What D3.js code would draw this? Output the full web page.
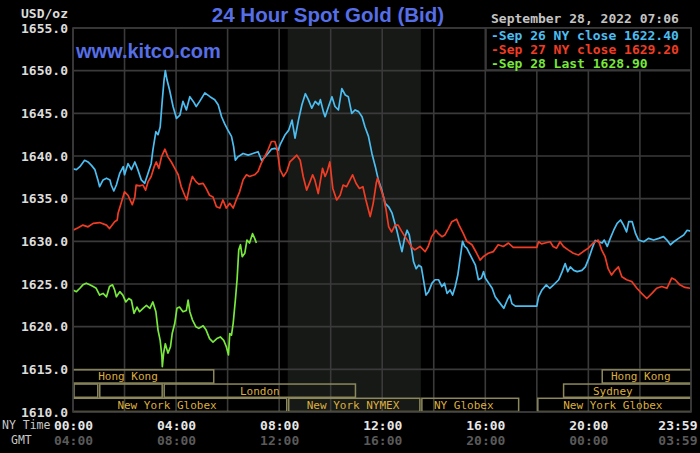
<!DOCTYPE html>
<html lang="en">
<head>
<meta charset="utf-8">
<script src="https://d3js.org/d3.v7.min.js"></script>
<style>
  body { margin: 0; background: #000; }
  text { font-family: "DejaVu Sans Mono", monospace; }
</style>
</head>
<body>
<script>
// price readings, [minutes after 00:00 NY time, price]
const sep26 = [
 [0,1638.5],[8,1638.4],[16,1638.75],[27,1639.5],[35,1639.3],[43,1638.9],[51,1638.4],[58,1637.2],[62,1636.4],
 [70,1637.2],[78,1637.4],[86,1637.2],[89,1636.6],[95,1635.9],[101,1636.6],[109,1638.0],[117,1638.75],[120,1637.8],
 [128,1639.1],[136,1638.4],[144,1639.3],[151,1638.4],[159,1637.2],[167,1636.8],[175,1638.0],[182,1639.1],[186,1640.7],
 [193,1642.85],[198,1642.5],[203,1643.4],[208,1646.6],[212,1648.9],[215,1650.0],[219,1648.9],[225,1647.7],[233,1645.8],
 [241,1644.4],[249,1644.8],[256,1646.4],[264,1645.4],[272,1646.95],[280,1646.4],[287,1645.8],[295,1646.4],[307,1647.4],
 [319,1646.95],[330,1646.6],[338,1646.0],[346,1644.6],[353,1643.8],[361,1643.0],[369,1642.3],[374,1641.1],[378,1639.5],
 [384,1639.9],[396,1640.3],[408,1640.1],[419,1640.3],[431,1640.5],[439,1639.5],[447,1639.9],[454,1640.3],[462,1640.8],
 [470,1640.9],[478,1640.7],[482,1641.3],[494,1642.5],[502,1643.0],[510,1644.2],[517,1642.1],[525,1644.2],[533,1646.0],
 [541,1647.3],[548,1646.6],[556,1645.6],[564,1646.4],[572,1646.0],[576,1646.6],[583,1645.2],[587,1644.6],[595,1645.8],
 [603,1646.95],[610,1645.8],[618,1645.4],[626,1647.9],[634,1647.15],[641,1646.95],[649,1645.0],[657,1645.4],[665,1645.2],
 [673,1644.6],[680,1643.4],[688,1642.3],[696,1640.3],[704,1638.75],[711,1637.2],[719,1636.0],[727,1634.45],[735,1634.05],
 [743,1633.3],[750,1632.0],[754,1631.3],[760,1630.0],[766,1628.8],[772,1630.35],[778,1631.3],[783,1630.75],[788,1629.2],
 [793,1627.6],[799,1626.8],[805,1627.2],[811,1627.0],[816,1625.5],[822,1623.7],[828,1624.1],[836,1625.1],[843,1625.5],
 [851,1625.5],[859,1624.7],[865,1625.1],[871,1623.9],[878,1624.3],[884,1623.7],[890,1624.7],[896,1626.05],[902,1628.2],
 [907,1630.0],[912,1629.4],[917,1629.2],[923,1628.6],[929,1628.0],[937,1627.2],[944,1625.5],[951,1625.7],[956,1626.45],
 [960,1625.7],[968,1625.1],[976,1624.5],[983,1623.5],[995,1622.7],[1003,1622.15],[1011,1623.1],[1017,1623.7],[1022,1622.7],
 [1030,1622.4],[1080,1622.4],[1084,1623.5],[1092,1624.3],[1102,1624.9],[1110,1624.5],[1119,1624.9],[1131,1625.5],
 [1139,1626.45],[1146,1627.4],[1152,1626.45],[1158,1627.0],[1166,1626.6],[1174,1626.45],[1185,1626.6],[1193,1627.0],
 [1201,1628.0],[1209,1629.2],[1216,1630.1],[1224,1629.95],[1232,1629.8],[1237,1630.15],[1244,1629.4],[1251,1630.35],
 [1259,1631.3],[1267,1632.1],[1275,1632.5],[1282,1631.9],[1289,1631.1],[1294,1632.3],[1302,1632.3],[1310,1630.9],
 [1317,1630.15],[1329,1629.95],[1340,1630.35],[1352,1630.15],[1364,1630.35],[1375,1630.55],[1383,1630.15],[1391,1629.6],
 [1399,1629.95],[1410,1630.35],[1422,1630.75],[1430,1631.3],[1438,1631.2]
];
const sep27 = [
 [0,1631.3],[12,1631.6],[23,1631.9],[35,1631.7],[47,1632.1],[62,1632.2],[78,1631.9],[85,1631.5],[97,1632.3],[103,1632.5],
 [105,1633.3],[112,1634.45],[120,1635.8],[128,1635.4],[138,1634.3],[144,1635.2],[147,1636.6],[155,1636.5],[163,1636.6],
 [169,1636.0],[175,1637.0],[182,1637.6],[189,1638.75],[194,1639.3],[200,1638.55],[206,1639.9],[214,1640.8],[221,1639.9],
 [229,1639.3],[237,1638.55],[245,1637.8],[252,1636.4],[260,1635.4],[265,1634.85],[272,1636.6],[278,1637.6],[286,1637.0],
 [293,1636.7],[303,1636.8],[310,1636.2],[318,1635.4],[326,1635.2],[334,1634.05],[342,1633.9],[349,1634.85],[357,1633.9],
 [365,1634.45],[373,1633.9],[380,1634.85],[388,1635.8],[396,1637.2],[404,1637.8],[411,1637.6],[423,1637.8],[431,1638.2],
 [438,1639.1],[446,1639.9],[454,1640.7],[462,1641.7],[470,1641.7],[475,1640.9],[482,1638.4],[490,1637.6],[498,1638.2],
 [505,1639.3],[513,1639.7],[521,1640.1],[529,1639.5],[536,1637.6],[544,1636.0],[552,1637.0],[558,1637.8],[563,1637.2],
 [571,1635.6],[581,1638.55],[587,1637.6],[592,1638.2],[598,1639.3],[605,1636.2],[614,1634.85],[622,1635.4],[629,1636.6],
 [637,1636.4],[645,1637.2],[651,1637.8],[659,1636.8],[667,1636.2],[675,1636.4],[682,1634.85],[692,1632.9],[699,1634.45],
 [706,1636.8],[709,1637.4],[715,1636.4],[723,1635.2],[729,1633.7],[735,1631.7],[742,1631.1],[750,1631.9],[757,1631.9],
 [765,1631.2],[773,1630.55],[781,1629.95],[789,1629.3],[796,1629.0],[808,1629.4],[820,1628.8],[827,1629.4],[835,1630.55],
 [845,1631.3],[851,1630.9],[859,1630.55],[866,1630.75],[874,1631.5],[882,1632.3],[893,1632.6],[899,1631.9],[909,1630.9],
 [917,1630.0],[929,1629.6],[940,1628.6],[948,1627.8],[955,1628.2],[967,1628.6],[979,1628.8],[990,1629.6],[1002,1629.4],
 [1014,1629.8],[1025,1629.3],[1080,1629.3],[1084,1629.95],[1091,1629.7],[1099,1629.8],[1111,1629.95],[1118,1629.4],
 [1126,1629.2],[1134,1629.95],[1142,1629.4],[1153,1629.0],[1165,1628.6],[1177,1628.4],[1188,1628.8],[1200,1629.2],
 [1211,1629.8],[1223,1630.15],[1231,1629.0],[1239,1628.2],[1246,1626.8],[1254,1626.05],[1262,1626.6],[1270,1627.0],
 [1278,1625.85],[1289,1625.5],[1301,1625.3],[1313,1624.5],[1324,1623.9],[1336,1623.3],[1348,1623.9],[1359,1624.5],
 [1371,1624.7],[1383,1624.5],[1394,1625.7],[1402,1625.5],[1413,1624.9],[1425,1624.6],[1437,1624.5]
];
const sep28 = [
 [0,1624.3],[8,1624.1],[16,1624.5],[23,1624.9],[31,1625.1],[39,1624.9],[47,1624.7],[54,1624.5],[62,1623.7],[70,1623.9],
 [78,1623.5],[85,1624.7],[92,1624.9],[97,1624.3],[101,1623.5],[109,1624.1],[116,1623.7],[123,1622.9],[130,1623.3],
 [136,1623.1],[142,1621.55],[149,1622.3],[155,1621.75],[163,1622.15],[171,1622.5],[179,1622.15],[186,1622.9],
 [193,1621.75],[198,1619.6],[203,1618.4],[207,1616.5],[208,1615.3],[211,1616.9],[215,1618.0],[221,1616.9],[227,1617.65],
 [231,1619.2],[237,1620.4],[242,1622.15],[248,1622.3],[256,1621.75],[264,1621.9],[268,1623.1],[272,1621.75],[278,1620.8],
 [286,1620.0],[293,1619.8],[303,1620.1],[310,1619.6],[318,1618.6],[326,1618.2],[335,1618.6],[343,1618.8],[351,1618.4],
 [357,1617.65],[362,1616.7],[365,1619.2],[369,1619.0],[373,1620.4],[378,1623.1],[382,1625.5],[386,1629.0],[390,1629.6],
 [394,1628.2],[400,1628.6],[405,1630.15],[411,1629.8],[418,1630.9],[423,1630.35],[427,1629.8]
];
const seriesNames = ["Sep 26 NY close 1622.40", "Sep 27 NY close 1629.20", "Sep 28 Last 1628.90"];
const seriesColors = ["#4cbdf0", "#f03c24", "#78e83c"];

const yTicks = [1610, 1615, 1620, 1625, 1630, 1635, 1640, 1645, 1650, 1655];
const timeTicks = [0, 240, 480, 720, 960, 1200, 1439];
const nyLabels = ["00:00", "04:00", "08:00", "12:00", "16:00", "20:00", "23:59"];
const gmtLabels = ["04:00", "08:00", "12:00", "16:00", "20:00", "00:00", "03:59"];
const gridTimes = [0, 120, 240, 360, 480, 600, 720, 840, 960, 1080, 1200, 1320, 1439];

// market sessions (minutes NY time), row 0 on top
const sessionName = ["Hong Kong", "Hong Kong", "", "", "London", "Sydney", "New York Globex", "New York NYMEX", "NY Globex", "New York Globex"];
const sessionRow = [0, 0, 1, 1, 1, 1, 2, 2, 2, 2];
const sessionStart = [-90, 1230, 0, 60, 210, 1140, -90, 500, 810, 1080];
const sessionEnd = [330, 1500, 60, 210, 660, 1500, 500, 810, 1040, 1500];
const sessionLabel = [128, 1322, 0, 0, 435, 1257, 219, 652, 910, 1257];

const comexOpen = 500, comexClose = 810;

const W = 700, H = 453;
const margin = {top: 28, right: 9, bottom: 41, left: 73};

const svg = d3.select("body").append("svg")
  .attr("width", W).attr("height", H)
  .style("background", "#000");

const x = d3.scaleLinear().domain([0, 1439]).range([margin.left, W - margin.right]);
const y = d3.scaleLinear().domain([1610, 1655]).range([H - margin.bottom, margin.top]);

svg.append("clipPath").attr("id", "plot")
  .append("rect")
  .attr("x", x(0)).attr("y", y(1655))
  .attr("width", x(1439) - x(0)).attr("height", y(1610) - y(1655));

// comex shaded hours
svg.append("rect")
  .attr("x", x(comexOpen)).attr("y", y(1655))
  .attr("width", x(comexClose) - x(comexOpen))
  .attr("height", y(1610) - y(1655))
  .attr("fill", "#161916");

// grid
const gridColor = "#3a3a3a";
svg.append("g").selectAll("line").data(gridTimes).join("line")
  .attr("x1", d => x(d)).attr("x2", d => x(d))
  .attr("y1", y(1655)).attr("y2", y(1610))
  .attr("stroke", gridColor).attr("stroke-width", 1.6);
svg.append("g").selectAll("line").data(yTicks).join("line")
  .attr("x1", x(0)).attr("x2", x(1439))
  .attr("y1", d => y(d)).attr("y2", d => y(d))
  .attr("stroke", gridColor).attr("stroke-width", 1.6);

// y axis labels
const yAxis = svg.append("g")
  .attr("transform", "translate(" + (margin.left - 5) + ",0)")
  .call(d3.axisLeft(y).tickValues(yTicks).tickFormat(d3.format(".1f")).tickSize(0).tickPadding(0));
yAxis.select(".domain").remove();
yAxis.selectAll("text")
  .attr("fill", "#dcdcdc")
  .style("font-family", "DejaVu Sans Mono")
  .style("font-size", "13px").style("font-weight", "bold");

svg.append("text").attr("x", 21).attr("y", 13).attr("dy", "0.35em")
  .attr("fill", "#dcdcdc").style("font-size", "13px").style("font-weight", "bold")
  .text("USD/oz");

// time axes (last label pulled in so it stays on the page)
function timeAxis(labels, yPos, color) {
  const g = svg.append("g")
    .attr("transform", "translate(0," + yPos + ")")
    .call(d3.axisBottom(x).tickValues(timeTicks).tickFormat((d, i) => labels[i]).tickSize(0).tickPadding(0));
  g.select(".domain").remove();
  g.selectAll("text")
    .attr("y", 0).attr("dy", "0.35em")
    .attr("fill", color)
    .style("font-family", "DejaVu Sans Mono")
    .style("font-size", "13px").style("font-weight", "bold");
  g.selectAll(".tick").filter(d => d === 1439).select("text")
    .attr("text-anchor", "end").attr("x", W - 3 - x(1439));
}
timeAxis(nyLabels, 425, "#e6e6e6");
timeAxis(gmtLabels, 440, "#5a5a5a");

svg.append("text").attr("x", 2).attr("y", 425).attr("dy", "0.35em")
  .attr("fill", "#c8c8c8").style("font-size", "11.5px").text("NY Time");
svg.append("text").attr("x", 11).attr("y", 440).attr("dy", "0.35em")
  .attr("fill", "#c8c8c8").style("font-size", "11.5px").text("GMT");

// market session boxes
const rowH = (y(1610) - y(1615)) / 3;
const sess = svg.append("g").attr("clip-path", "url(#plot)");
sessionName.forEach((name, i) => {
  const top = y(1615) + sessionRow[i] * rowH;
  sess.append("rect")
    .attr("x", x(sessionStart[i]) + 1).attr("y", top + 0.5)
    .attr("width", x(sessionEnd[i]) - x(sessionStart[i]) - 2)
    .attr("height", rowH - 1)
    .attr("fill", "none").attr("stroke", "#8c885c").attr("stroke-width", 1.5);
  if (name) {
    sess.append("text")
      .attr("x", x(sessionLabel[i])).attr("y", top + rowH / 2).attr("dy", "0.36em")
      .attr("text-anchor", "middle")
      .attr("fill", "#dcae3e").style("font-size", "11px")
      .text(name);
  }
});

// price lines
const line = d3.line().x(d => x(d[0])).y(d => y(d[1]));
const lines = svg.append("g").attr("clip-path", "url(#plot)");
[sep26, sep27, sep28].forEach((s, i) => {
  lines.append("path").datum(s)
    .attr("d", line)
    .attr("fill", "none")
    .attr("stroke", seriesColors[i])
    .attr("stroke-width", 1.7)
    .attr("stroke-linejoin", "round");
});

// plot frame
svg.append("rect")
  .attr("x", x(0)).attr("y", y(1655))
  .attr("width", x(1439) - x(0)).attr("height", y(1610) - y(1655))
  .attr("fill", "none").attr("stroke", gridColor).attr("stroke-width", 1.6);

// legend
svg.append("rect")
  .attr("x", 486).attr("y", y(1655))
  .attr("width", x(1439) - 486).attr("height", 42)
  .attr("fill", "#000").attr("stroke", gridColor).attr("stroke-width", 1.6);
seriesNames.forEach((n, i) => {
  svg.append("text")
    .attr("x", 491).attr("y", 35.5 + i * 14).attr("dy", "0.35em")
    .attr("fill", seriesColors[i])
    .style("font-size", "13px").style("font-weight", "bold")
    .text("-" + n);
});

svg.append("text").attr("x", 491).attr("y", 18).attr("dy", "0.35em")
  .attr("fill", "#c4c4c4").style("font-size", "13px").style("font-weight", "bold")
  .text("September 28, 2022 07:06");

// title and site
svg.append("text").attr("x", 328).attr("y", 22)
  .attr("text-anchor", "middle")
  .attr("fill", "#566ee6")
  .style("font-family", "Liberation Sans, Arial, sans-serif")
  .style("font-size", "20.5px").style("font-weight", "bold")
  .text("24 Hour Spot Gold (Bid)");
svg.append("text").attr("x", 76).attr("y", 58)
  .attr("fill", "#566ee6")
  .style("font-family", "Liberation Sans, Arial, sans-serif")
  .style("font-size", "20px").style("font-weight", "bold")
  .text("www.kitco.com");
</script>
</body>
</html>
